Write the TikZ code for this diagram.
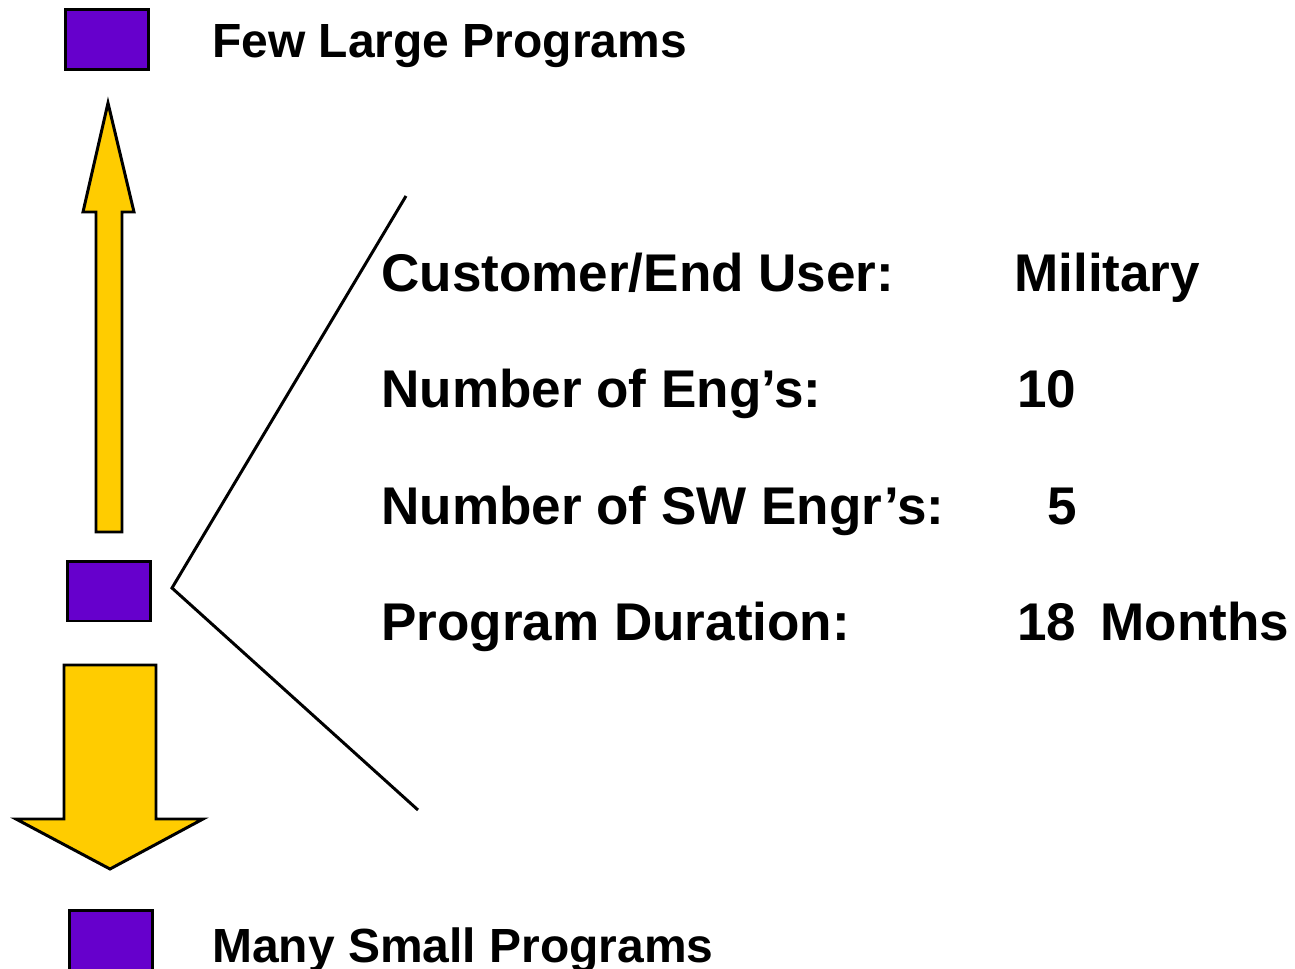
\documentclass[tikz,border=0pt]{standalone}
\usepackage{fontspec}
\setmainfont{Liberation Sans}
\usetikzlibrary{positioning}
\definecolor{boxpurple}{HTML}{6600CC}
\definecolor{arrowgold}{HTML}{FFCC00}

\begin{document}
\begin{tikzpicture}[x=0.02cm,y=-0.02cm,
  progbox/.style={draw,fill=boxpurple,line width=1.7pt,minimum width=1.66cm,minimum height=1.2cm,inner sep=0},
  bigarrow/.style={draw,fill=arrowgold,line width=1.7pt,line join=miter},
  txt/.style={anchor=base west,inner sep=0,font=\bfseries\fontsize{27.3}{33}\selectfont},
  info/.style={txt,font=\bfseries\fontsize{30.2}{36}\selectfont}]
\useasboundingbox (0,0) rectangle (1295,969);
% program boxes
\node[progbox] (few) at (107,39.5) {};
\node[progbox] (mid) at (109,591) {};
\node[progbox] (many) at (111,940) {};
% arrows
\draw[bigarrow] (108,103) -- (134,212) -- (122,212) -- (122,532)
  -- (96,532) -- (96,212) -- (83,212) -- cycle;
\draw[bigarrow] (64,665) -- (156,665) -- (156,819) -- (203,819)
  -- (110,869) -- (16,819) -- (64,819) -- cycle;
% labels
\node[txt] (fewtxt) at (212,58) {Few Large Programs};
\node[txt] (manytxt) at (212,962) {Many Small Programs};
% callout
\coordinate (cTop) at (406,196);
\coordinate (cTip) at (172,588);
\coordinate (cBot) at (418,810);
\draw[line width=1.7pt] (cTop) -- (cTip) -- (cBot);
\node[info] (k1) at (381,292) {Customer/End User:};
\node[info] (k2) at (381,408) {Number of Eng’s:};
\node[info] (k3) at (381,524) {Number of SW Engr’s:};
\node[info] (k4) at (381,640) {Program Duration:};
\node[info] (v1) at (1014,292) {Military};
\node[info] (v2) at (1017,408) {10};
\node[info] (v3) at (1047,524) {5};
\node[info] (v4) at (1017,640) {18\hspace{0.46em}Months};
\end{tikzpicture}
\end{document}
